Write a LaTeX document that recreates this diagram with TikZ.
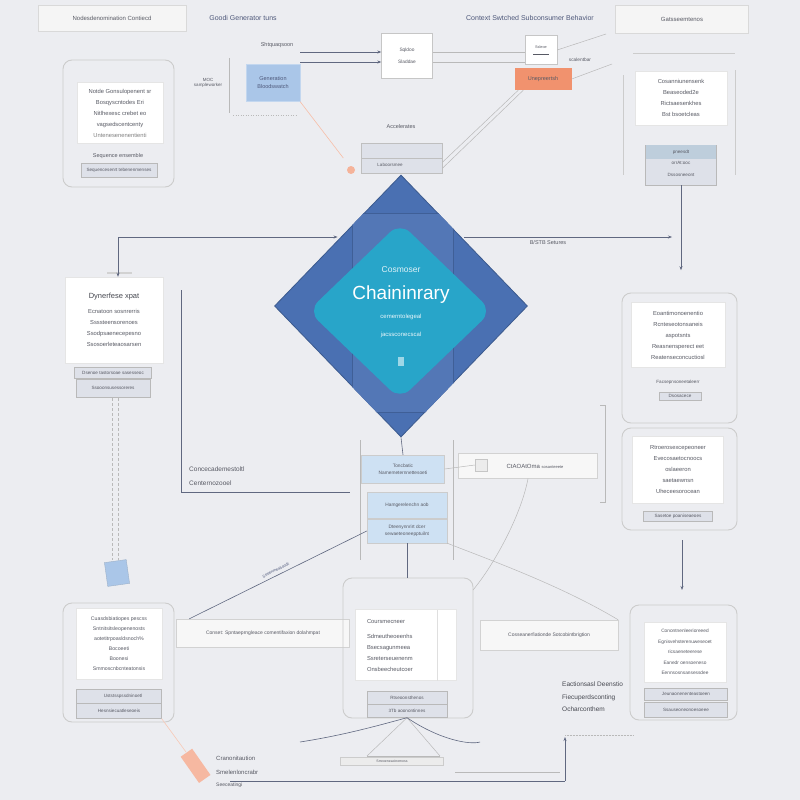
\documentclass[tikz,border=0pt]{standalone}
\usepackage{fontspec}
\setmainfont{Liberation Sans}
\usetikzlibrary{arrows.meta, positioning, calc, shapes.geometric}

\definecolor{bgc}{RGB}{236,237,241}
\definecolor{linec}{RGB}{96,104,128}
\definecolor{dblue}{RGB}{74,112,178}
\definecolor{cyanc}{RGB}{40,165,201}
\definecolor{paleblue}{RGB}{170,198,232}
\definecolor{iceblue}{RGB}{206,225,243}
\definecolor{orangec}{RGB}{241,146,110}
\definecolor{txtc}{RGB}{88,90,100}
\definecolor{titlec}{RGB}{78,88,122}
\definecolor{tagc}{RGB}{222,225,233}

\tikzset{
  panel/.style={draw=gray!40, rounded corners=9pt, line width=0.9pt},
  card/.style={draw=gray!20, fill=white, align=center, text=txtc, inner sep=0pt,
    font=\fontsize{5.8}{11}\selectfont},
  tag/.style={draw=gray!55, fill=tagc, text=txtc, inner sep=0pt,
    font=\fontsize{4.6}{6}\selectfont},
  lbl/.style={text=txtc, font=\fontsize{5.5}{8}\selectfont, align=center, inner sep=1pt},
  title/.style={text=titlec, font=\fontsize{7}{9}\selectfont, inner sep=1pt},
  hdrbox/.style={draw=gray!30, fill=gray!8, text=txtc, inner sep=0pt,
    font=\fontsize{6}{8}\selectfont},
  conn/.style={draw=linec, line width=0.6pt},
  faint/.style={draw=gray!55, line width=0.5pt},
  flow/.style={conn, -{Stealth[length=4pt, width=3pt]}},
}

\begin{document}
\begin{tikzpicture}[x=1pt, y=-1pt]
\fill[bgc] (0,0) rectangle (800,800);
\useasboundingbox (0,0) rectangle (800,800);

% header row
\node[hdrbox, minimum width=148, minimum height=26] (hdrl) at (112,18) {Nodesdenomination Contiecd};
\node[title] (gen) at (243,18) {Goodi Generator tuns};
\node[title] (ctx) at (530,18) {Context Swtched Subconsumer Behavior};
\node[hdrbox, minimum width=133, minimum height=28] (hdrr) at (682,19) {Gatsseemtenos};

% top left panel
\draw[panel] (63,60) rectangle (174,187);
\node[card, minimum width=86, minimum height=61] (tlc) at (120,113)
  {Notde Gonsulopenent sr\\Bosqyscntodes Eri\\Nitlhexesc crebet eo\\vagsedscentcenty\\{\color{gray}Untenesenenentienti}};
\node[lbl] (tll) at (118,156) {Sequence ensemble};
\node[tag, minimum width=76, minimum height=14] (tlt) at (119,170) {Sequencesenrt tebenenmenses};

% generator group
\node[draw=paleblue!70!white, fill=paleblue, text=titlec, align=center, inner sep=0pt,
  minimum width=54, minimum height=37, font=\fontsize{5.5}{8}\selectfont] (gbox) at (273,83) {Generation\\Bloodswatch};
\node[lbl] (sel) at (277,45) {Shtquaqsoon};
\node[lbl, font=\fontsize{4.5}{5.5}\selectfont] (moc) at (208,83) {MOC\\sampleworker};
\node[draw=gray!45, fill=white, text=txtc, align=center, inner sep=0pt, minimum width=51, minimum height=45,
  font=\fontsize{4.8}{12}\selectfont] (sqa) at (407,56) {Sqldoo\\Sladdae};
\node[draw=gray!45, fill=white, text=txtc, align=center, inner sep=0pt, minimum width=32, minimum height=29,
  font=\fontsize{3.8}{6}\selectfont] (sqb) at (541,50) {Ssleoe\\\rule{16pt}{0.4pt}};
\node[fill=orangec, text=txtc, inner sep=0pt, minimum width=57, minimum height=22,
  font=\fontsize{5.5}{7}\selectfont] (orng) at (543,79) {Unepreertsh};
\node[lbl, font=\fontsize{4.8}{6}\selectfont] (scal) at (580,60) {scalentbar};

\coordinate (ga) at (300,52);
\coordinate (gb) at (300,62);
\draw[flow] (ga) -- (ga -| sqa.west);
\draw[flow] (gb) -- (gb -| sqa.west);
\draw[faint] (sqa.east |- ga) -- (sqb.west |- ga);
\draw[faint] (sqa.east |- gb) -- (sqb.west |- gb);
\draw[faint] (229,58) -- (229,113);
\draw[faint, dotted] (233,115) -- (297,115);
\draw[faint] (orng.east) -- (612,64);
\draw[faint] (sqb.east) -- (606,34);

% accelerator box at diamond top
\node[lbl] (accl) at (401,127) {Accelerates};
\node[draw=gray!50, fill=tagc, inner sep=0pt, minimum width=81, minimum height=30] (accb) at (402,158) {};
\draw[gray!50] (accb.west) -- (accb.east);
\node[lbl, font=\fontsize{4.5}{6}\selectfont] (acct) at (390,165) {Laboorsmee};
\fill[orangec!70] (351,170) circle (4);
\draw[faint] ([xshift=4pt]orng.south west) -- ([yshift=-4pt]accb.east);
\draw[faint] ([xshift=9pt]orng.south west) -- ([yshift=-10pt]accb.east);
\draw[draw=orangec!60, line width=0.6pt] (gbox.south east) -- ([xshift=-18pt]accb.west);

% top right panel
\draw[gray!40, line width=0.9pt] (633,53) -- (735,53);
\draw[gray!40, line width=0.9pt] (623,75) -- (623,175);
\draw[gray!40, line width=0.9pt] (735,70) -- (735,175);
\node[card, minimum width=92, minimum height=54] (trc) at (681,98)
  {Cosanniunensenk\\Beaseoded2e\\Rictsaesenkhes\\Bst bsoetcleas};
\node[tag, align=center, minimum width=71, minimum height=40, font=\fontsize{4.6}{12}\selectfont] (trt) at (681,165)
  {\\orrAt:ooc\\Dssosneeont};
\fill[iceblue!80!gray] ([xshift=0.3pt,yshift=-0.3pt]trt.north west) rectangle ([xshift=-0.3pt,yshift=-14pt]trt.north east);
\node[lbl, font=\fontsize{4.6}{6}\selectfont] (trh) at (681,152) {pneesdt};
\draw[flow] (trt.south) -- ++(0,85);

% core diamond
\node[diamond, fill=dblue, draw=dblue!80!black, line width=0.8pt, inner sep=0pt,
  minimum width=253, minimum height=262] (core) at (401,306) {};
\begin{scope}
  \clip (core.north) -- (core.east) -- (core.south) -- (core.west) -- cycle;
  \fill[dblue!95!white] (352,213) rectangle (453,412);
  \draw[dblue!85!black, line width=0.5pt] (352,213) rectangle (453,412);
\end{scope}
\node[diamond, fill=cyanc, rounded corners=14pt, inner sep=0pt,
  minimum width=184, minimum height=177] (corein) at (400,311) {};
\node[text=white!85!cyanc, font=\fontsize{8.5}{10}\selectfont] (csm) at (401,270) {Cosmoser};
\node[text=white, font=\fontsize{19}{22}\selectfont] (ctit) at (401,295) {Chaininrary};
\node[text=white!90!cyanc, font=\fontsize{6}{8}\selectfont] (csub) at (401,317) {cemerntolegeal};
\node[text=white!90!cyanc, font=\fontsize{6}{8}\selectfont] (csub2) at (401,335) {jacssconecscal};
\node[fill=white!55!cyanc, inner sep=0pt, minimum width=6, minimum height=9] (cbtn) at (401,361) {};

\coordinate (lhub) at (118,237);
\coordinate (rhub) at (672,237);
\draw[flow] (lhub) -- (lhub -| core.north west);
\draw[flow] (lhub -| core.north east) -- (rhub);
\node[lbl] (bstb) at (548,243) {B/STB Setures};

% left panel
\node[card, minimum width=98, minimum height=86] (lc) at (114,320)
  {{\fontsize{7.5}{9}\selectfont\color{txtc!80!black}Dynerfese xpat}\\[4pt]Ecnatoon sosnrerris\\Ssssteensorenoes\\Ssodpsaenecepesno\\Ssosoerleteaosarsen};
\fill[gray!35] (107,272) rectangle (132,274);
\draw[flow] (lhub) -- (lhub |- lc.north);
\node[tag, minimum width=77, minimum height=11] (lt1) at (113,373) {Dsenoe tastorsoae sasesseoc};
\node[tag, minimum width=74, minimum height=18] (lt2) at (113,388) {Ssooonsusessoreres};
\draw[faint, densely dashed] (112,398) -- (112,560);
\draw[faint, densely dashed] (118,398) -- (118,560);
\node[fill=paleblue, draw=paleblue!70!gray, inner sep=0pt, minimum width=22, minimum height=24, rotate=8] (lsq) at (117,573) {};

% context bracket
\draw[conn] (181,290) -- (181,492) -- (350,492);
\node[lbl, anchor=west, font=\fontsize{6.5}{8}\selectfont] (cc1) at (188,469) {Concecademestoltl};
\node[lbl, anchor=west, font=\fontsize{6.5}{8}\selectfont] (cc2) at (188,483) {Centernozooel};

% central stack
\draw[faint] (360,440) -- (360,560);
\draw[faint] (453,440) -- (453,560);
\node[draw=gray!40, fill=iceblue, text=txtc, align=center, inner sep=0pt, minimum width=83, minimum height=28,
  font=\fontsize{4.8}{7}\selectfont] (stk1) at (403,469) {Toncbatic\\Namemeternnettesoeti};
\node[draw=gray!40, fill=iceblue, text=txtc, inner sep=0pt, minimum width=80, minimum height=26,
  font=\fontsize{4.8}{7}\selectfont] (stk2) at (407,505) {Hamgerelenchn aob};
\node[draw=gray!40, fill=iceblue, text=txtc, align=center, inner sep=0pt, minimum width=80, minimum height=24,
  font=\fontsize{4.8}{7}\selectfont] (stk3) at (407,531) {Dteenynnrirt dcer\\sewaeteoneepptuilnt};
\draw[conn] (core.south) -- (stk1.north);
\node[draw=gray!35, fill=gray!6, text=txtc, inner sep=0pt, minimum width=139, minimum height=25,
  font=\fontsize{6}{8}\selectfont] (ctao) at (528,466) {\hspace{14pt}CtAOAtOma {\fontsize{4}{5}\selectfont sosanteeete}};
\node[draw=gray!45, fill=gray!15, inner sep=0pt, minimum width=12, minimum height=12] (ctic) at (481,465) {};
\draw[faint] (stk1.east) -- (ctic.west);

% right panels
\draw[panel] (622,293) rectangle (737,423);
\node[card, minimum width=94, minimum height=65] (ruc) at (678,335)
  {Eoantimonoenentio\\Rcnteseotonsaneis\\aspotsnts\\Reasnensperect eet\\Reatenseconcuctiosl};
\node[lbl, font=\fontsize{4.6}{6}\selectfont] (rul) at (678,382) {Facsepnsoneetaleerr};
\node[tag, minimum width=42, minimum height=8] (rut) at (680,396) {Dsosacece};
\draw[panel] (622,428) rectangle (737,530);
\node[card, minimum width=91, minimum height=67] (rlc) at (678,470)
  {Rtroerosexcepeoneer\\Evecosaetocnoocs\\oslaeeron\\saetaewnsn\\Uheceesorocean};
\node[tag, minimum width=69, minimum height=10] (rlt) at (678,516) {Sasetoe poaniseaeoes};
\draw[faint] (600,405) -- (605,405) -- (605,502) -- (600,502);
\draw[flow] (682,540) -- (682,590);

% bottom left panel
\draw[panel] (63,603) rectangle (174,722);
\node[card, minimum width=86, minimum height=71, font=\fontsize{5.2}{10}\selectfont] (blc) at (119,644)
  {Cuasdsbiatiopes pescss\\Sntnitsitsleopenenosts\\aotetitrpoasldsnoch\%\\Bocoeeti\\Boonesi\\Smmoscnbcnteatonsis};
\node[tag, minimum width=85, minimum height=14] (blt1) at (119,696) {\hspace{8pt}Uststsspssdninoetl};
\node[tag, minimum width=85, minimum height=15] (blt2) at (119,711) {Hesnsiecuatleseoeis};
\fill[orangec!65, rotate around={-55:(195,765)}] (180,758) rectangle (212,772);
\draw[draw=orangec!50, line width=0.6pt] (blt2.south east) -- (186,752);
\node[lbl, anchor=west, font=\fontsize{6}{8}\selectfont] (bl1) at (215,758) {Cranonitaution};
\node[lbl, anchor=west, font=\fontsize{6}{8}\selectfont] (bl2) at (215,772) {Smelenloncrabr};
\node[lbl, anchor=west, font=\fontsize{5}{7}\selectfont] (bl3) at (215,785) {Seeceatingi};

% conset box
\node[draw=gray!35, fill=gray!6, text=txtc, inner sep=0pt, minimum width=173, minimum height=28,
  font=\fontsize{5}{7}\selectfont] (cset) at (263,633) {Conset: Spntaeprngleace comentifaxion dolahmpat};
\draw[conn] ([xshift=13pt]cset.north west) -- node[sloped, above, font=\fontsize{4}{5}\selectfont, text=titlec] {Seeenmeatioodt} (stk3.west);

% bottom centre panel
\draw[panel] (343,578) rectangle (473,718);
\node[card, align=left, minimum width=101, minimum height=71, text width=78] (bcc) at (406,645)
  {Coursmecneer\\[4pt]Sdmeutheoeenhs\\Bsecsagunmeea\\Ssreterseuenenm\\Onsbeecheutcoer};
\draw[gray!25] (437,610) -- (437,681);
\node[tag, minimum width=80, minimum height=13] (bct1) at (407,698) {Rtseoonsthenos};
\node[tag, minimum width=80, minimum height=13] (bct2) at (407,711) {3Tb aoonontinnes};
\coordinate (bctop) at (407,578);
\coordinate (bcright) at (473,590);
\draw[conn] (stk3.south) -- (bctop);
\coordinate (bv1) at (367,756);
\coordinate (bv2) at (440,756);
\draw[faint] (bct2.south) -- (bv1);
\draw[faint] (bct2.south) -- (bv2);
\draw[faint] (bv1) -- (bv2);
\draw[conn] (300,742) .. controls (345,735) and (380,725) .. (bct2.south);
\draw[conn] (bct2.south) .. controls (440,740) and (470,745) .. (480,742);
\node[draw=gray!40, fill=gray!15, inner sep=0pt, minimum width=103, minimum height=8,
  font=\fontsize{3.5}{4}\selectfont, text=txtc] (band) at (392,761) {Srreoeneacinomoss};

% right bottom
\node[draw=gray!35, fill=gray!6, text=txtc, inner sep=0pt, minimum width=138, minimum height=30,
  font=\fontsize{5}{7}\selectfont] (coss) at (549,635) {Cosseanerfiationde Sotcobintbrigtion};
\draw[faint] (stk3.south east) .. controls (490,560) and (560,585) .. (coss.north east);
\draw[faint] (ctao.south) .. controls (520,520) and (490,570) .. (bcright);
\node[text=txtc!80!black, align=left, anchor=north west, inner sep=0pt,
  font=\fontsize{6.5}{12.5}\selectfont] (eact) at (562,682) {Eactionsasl Deenstio\\Fiecuperdsconting\\Ocharconthem};
\draw[panel] (630,605) rectangle (737,720);
\node[card, minimum width=82, minimum height=60, font=\fontsize{4.8}{10.5}\selectfont] (brc) at (685,652)
  {Conontnenleerioreeed\\Egnisvehsterenuweseoet\\ricsaeneteerese\\Eanedr oensoeneso\\Eennsosnsansessdee};
\node[tag, minimum width=83, minimum height=12] (brt1) at (686,694) {Jeunaonenenteastoeen};
\node[tag, minimum width=83, minimum height=15] (brt2) at (686,710) {Ssauseoneonoesoeee};

% bottom rails
\coordinate (rail) at (565,781);
\draw[conn] (230,781) -- (rail);
\draw[flow] (rail) -- (565,737);
\draw[faint, densely dotted] (565,735) -- (633,735);
\draw[faint] (455,772) -- (560,772);
\end{tikzpicture}
\end{document}
